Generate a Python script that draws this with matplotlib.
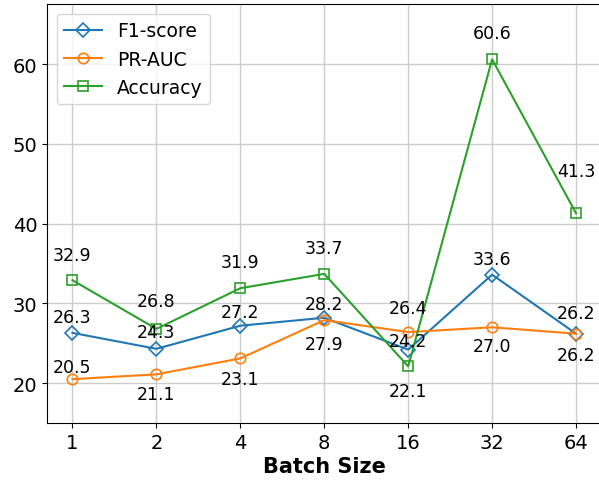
import matplotlib
matplotlib.use("Agg")
import matplotlib.pyplot as plt
import numpy as np

batch_sizes = ["1", "2", "4", "8", "16", "32", "64"]
f1_score = [26.3, 24.3, 27.2, 28.2, 24.2, 33.6, 26.2]
pr_auc = [20.5, 21.1, 23.1, 27.9, 26.4, 27.0, 26.2]
accuracy = [32.9, 26.8, 31.9, 33.7, 22.1, 60.6, 41.3]

# label offsets in pixels (positive = above the point)
f1_off = [16, 17, 14, 14, 9, 16, 21]
pr_off = [12, -20, -21, -24, 24, -19, -21]
acc_off = [25, 28, 26, 26, -25, 26, 42]

fig = plt.figure(figsize=(5.99, 4.81), dpi=100)
ax = fig.add_axes([0.079, 0.1185, 0.9247, 0.8705])

x = np.arange(len(batch_sizes))
series = [
    ("F1-score", f1_score, "D", "#1f77b4", f1_off),
    ("PR-AUC", pr_auc, "o", "#ff7f0e", pr_off),
    ("Accuracy", accuracy, "s", "#2ca02c", acc_off),
]
for name, vals, mk, col, offs in series:
    ax.plot(x, vals, marker=mk, color=col, lw=1.5, ms=7.5 if mk != "s" else 6.5,
            markerfacecolor="none", markeredgewidth=1.2, label=name)
    for xi, v, o in zip(x, vals, offs):
        ax.annotate(f"{v:.1f}", (xi, v), xytext=(0, o),
                    textcoords="offset pixels", ha="center", va="center",
                    fontsize=12.5)

ax.set_xticks(x)
ax.set_xticklabels(batch_sizes)
ax.set_xlim(-0.3, 6.3)
ax.set_ylim(15, 67.5)
ax.set_yticks([20, 30, 40, 50, 60])
ax.tick_params(labelsize=14)
ax.set_xlabel("Batch Size", fontsize=15, weight="bold", labelpad=3)
ax.grid(True, color="#cccccc", lw=1.0)
ax.set_axisbelow(True)
ax.legend(loc="upper left", fontsize=13.5)

fig.savefig("out.png", dpi=100)
